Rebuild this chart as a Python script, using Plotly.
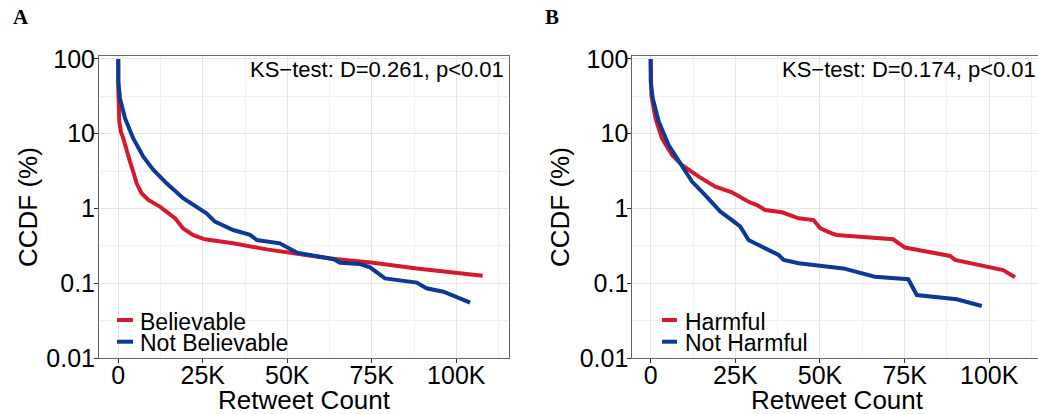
import plotly.graph_objects as go

# ---------------- data (retweet count, CCDF %) ----------------
believable_x = [0, 0, 300, 800, 1480, 2470, 3460, 4440, 5430, 6900, 8900, 12300, 14300,
                16800, 19200, 22200, 25600, 34000, 43900, 53800, 62600, 75400, 88300, 107800]
believable_y = [100, 40, 14.5, 10.5, 8.7, 5.75, 4.23, 3.1, 2.17, 1.6, 1.3, 1.06, 0.906,
                0.74, 0.54, 0.44, 0.387, 0.342, 0.284, 0.244, 0.215, 0.188, 0.158, 0.126]

not_believable_x = [0, 0, 500, 2000, 4400, 7400, 10400, 14300, 19200, 24200, 26100, 28600,
                    34000, 39000, 41000, 47800, 50800, 52800, 56700, 63600, 65600, 71500,
                    74500, 78900, 88300, 91200, 96200, 104100]
not_believable_y = [100, 50, 29.8, 16.1, 8.7, 4.93, 3.27, 2.17, 1.37, 1.0, 0.86, 0.667,
                    0.515, 0.443, 0.379, 0.342, 0.293, 0.257, 0.239, 0.211, 0.188, 0.181,
                    0.163, 0.116, 0.102, 0.0855, 0.077, 0.055]

harmful_x = [0, 0, 200, 1400, 3300, 6300, 9200, 14200, 19100, 24000, 28900, 31400, 33800,
             38800, 43700, 48100, 50100, 53500, 54900, 71600, 75100, 88400, 89900, 104100, 107600]
harmful_y = [100, 45, 33, 16.1, 8.7, 5.2, 3.82, 2.67, 1.96, 1.65, 1.23, 1.11, 0.955,
             0.89, 0.74, 0.70, 0.543, 0.466, 0.443, 0.387, 0.30, 0.232, 0.205, 0.150, 0.120]

not_harmful_x = [0, 0, 600, 2400, 5300, 8300, 12200, 16100, 20600, 24000, 26500, 28900,
                 33800, 37800, 39300, 43700, 56900, 66200, 76100, 77600, 78600, 90400, 97800]
not_harmful_y = [100, 50, 29.8, 14.5, 7.08, 4.23, 2.29, 1.51, 0.906, 0.70, 0.571, 0.379,
                 0.293, 0.239, 0.205, 0.185, 0.158, 0.122, 0.113, 0.0855, 0.0696, 0.061, 0.0497]

x_tickvals = [0, 25000, 50000, 75000, 100000]
x_ticktext = ["0", "25K", "50K", "75K", "100K"]
x_minor = [12500, 37500, 62500, 87500, 112500]
y_tickvals = [0.01, 0.1, 1, 10, 100]
y_ticktext = ["0.01", "0.1", "1", "10", "100"]
y_minor = [0.0316, 0.316, 3.16, 31.6]

x_title = "Retweet Count"
y_title = "CCDF (%)"
ks_a = "KS\u2212test: D=0.261, p<0.01"
ks_b = "KS\u2212test: D=0.174, p<0.01"
legend_a = ["Believable", "Not Believable"]
legend_b = ["Harmful", "Not Harmful"]

RED = "#D51A2E"
BLUE = "#0B3A96"
FONT = "Liberation Sans, Arial, sans-serif"
W, H = 1038, 414


def xp(px):
    return px / W


def yp(py):
    return 1 - py / H


fig = go.Figure()
fig.add_trace(go.Scatter(x=believable_x, y=believable_y, mode="lines", name=legend_a[0],
                         line=dict(color=RED, width=4), xaxis="x", yaxis="y", showlegend=False))
fig.add_trace(go.Scatter(x=not_believable_x, y=not_believable_y, mode="lines", name=legend_a[1],
                         line=dict(color=BLUE, width=4), xaxis="x", yaxis="y", showlegend=False))
fig.add_trace(go.Scatter(x=harmful_x, y=harmful_y, mode="lines", name=legend_b[0],
                         line=dict(color=RED, width=4), xaxis="x2", yaxis="y2", showlegend=False))
fig.add_trace(go.Scatter(x=not_harmful_x, y=not_harmful_y, mode="lines", name=legend_b[1],
                         line=dict(color=BLUE, width=4), xaxis="x2", yaxis="y2", showlegend=False))

ydom = [yp(358), yp(55.7)]
GRID = "#E6E6E6"
MINOR = "#F0F0F0"
BORDER = "#666666"


def xaxis_cfg(domain, rng, anchor):
    return dict(domain=domain, range=rng, anchor=anchor, tickvals=x_tickvals, ticktext=x_ticktext,
                showgrid=True, gridcolor=GRID, gridwidth=1, zeroline=False,
                minor=dict(tickvals=x_minor, showgrid=True, gridcolor=MINOR, gridwidth=1, ticks=""),
                showline=True, linecolor=BORDER, linewidth=1, mirror=True,
                ticks="outside", ticklen=4, tickcolor="#333333", tickwidth=1,
                tickfont=dict(size=25, color="black", family=FONT),
                ticklabelstandoff=-9, automargin=False)


def yaxis_cfg(domain, anchor, mirror):
    return dict(domain=domain, type="log", range=[-2, 2.044], anchor=anchor,
                tickvals=y_tickvals, ticktext=y_ticktext,
                showgrid=True, gridcolor=GRID, gridwidth=1, zeroline=False,
                minor=dict(tickvals=y_minor, showgrid=True, gridcolor=MINOR, gridwidth=1, ticks=""),
                showline=True, linecolor=BORDER, linewidth=1, mirror=mirror,
                ticks="outside", ticklen=4, tickcolor="#333333", tickwidth=1,
                tickfont=dict(size=25, color="black", family=FONT),
                ticklabelstandoff=-6, automargin=False)


fig.update_layout(
    width=W, height=H,
    margin=dict(l=0, r=0, t=0, b=0, autoexpand=False),
    paper_bgcolor="white", plot_bgcolor="white",
    xaxis=xaxis_cfg([xp(99), xp(509)], [-5700, 115600], "y"),
    yaxis=yaxis_cfg(ydom, "x", True),
    xaxis2=xaxis_cfg([xp(632.3), 1.0], [-5430, 114400], "y2"),
    yaxis2=yaxis_cfg(ydom, "x2", False),
)

annotations = []
title_font = dict(family=FONT, size=26, color="black")
# axis titles
for cx, cy_x, cy_y in [(304, 28, 207), (837, 560, 207)]:
    annotations.append(dict(text=x_title, x=xp(cx), y=yp(400), xref="paper", yref="paper",
                            xanchor="center", yanchor="middle", showarrow=False, height=20,
                            font=title_font))
    annotations.append(dict(text=y_title, x=xp(cy_x), y=yp(cy_y), xref="paper", yref="paper",
                            xanchor="center", yanchor="middle", showarrow=False, textangle=-90,
                            font=title_font))
# panel letters
annotations.append(dict(text="<b>A</b>", x=xp(11), y=yp(17), xref="paper", yref="paper",
                        xanchor="left", yanchor="middle", showarrow=False,
                        font=dict(family="Liberation Serif, Times New Roman, serif", size=21, color="black")))
annotations.append(dict(text="<b>B</b>", x=xp(543), y=yp(17), xref="paper", yref="paper",
                        xanchor="left", yanchor="middle", showarrow=False,
                        font=dict(family="Liberation Serif, Times New Roman, serif", size=21, color="black")))
# KS-test texts
annotations.append(dict(text=ks_a, x=xp(506), y=yp(70), xref="paper", yref="paper",
                        xanchor="right", yanchor="middle", showarrow=False,
                        font=dict(family=FONT, size=22, color="black")))
annotations.append(dict(text=ks_b, x=xp(1038), y=yp(70), xref="paper", yref="paper",
                        xanchor="right", yanchor="middle", showarrow=False,
                        font=dict(family=FONT, size=22, color="black")))

shapes = []
# manual legends (key line + label)
for (key_x0, key_x1, text_x, labels) in [(117, 133, 138, legend_a), (662, 677, 683, legend_b)]:
    for i, (lab, col) in enumerate(zip(labels, [RED, BLUE])):
        ypx = 320 + 21.7 * i
        shapes.append(dict(type="line", xref="paper", yref="paper",
                           x0=xp(key_x0), x1=xp(key_x1), y0=yp(ypx), y1=yp(ypx),
                           line=dict(color=col, width=4)))
        annotations.append(dict(text=lab, x=xp(text_x), y=yp(ypx + 1), xref="paper", yref="paper",
                                xanchor="left", yanchor="middle", showarrow=False, height=21,
                                font=dict(family=FONT, size=23, color="black")))

fig.update_layout(annotations=annotations, shapes=shapes)

fig.write_html("out.html")
